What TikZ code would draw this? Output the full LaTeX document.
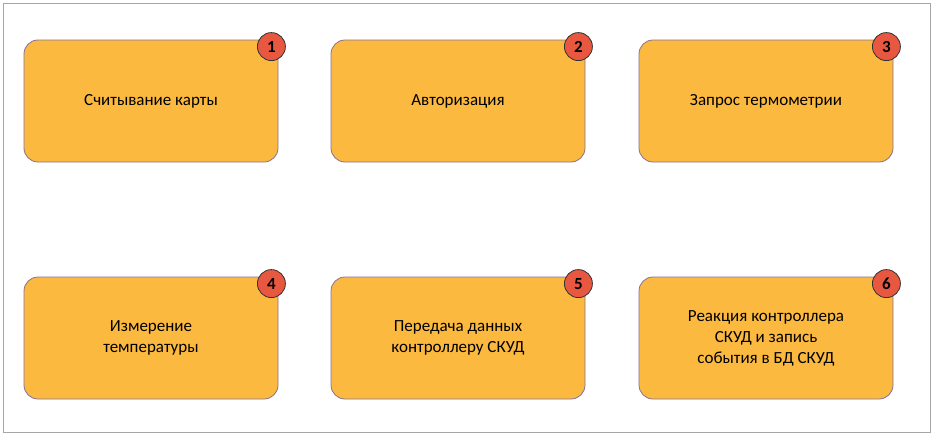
\documentclass[tikz,border=0pt]{standalone}
\usepackage{fontspec}
\setmainfont{Carlito}
\definecolor{boxfill}{HTML}{FBB940}
\definecolor{boxline}{HTML}{8A7090}
\definecolor{badgefill}{HTML}{E8573F}
\tikzset{
  stagebox/.style={draw=boxline, fill=boxfill, line width=0.8pt, rounded corners=14pt,
    minimum width=254pt, minimum height=122pt, align=center, font=\fontsize{17}{21}\selectfont},
  badge/.style={circle, draw=black!80, fill=badgefill, line width=0.8pt, minimum size=28pt,
    inner sep=0pt, font=\bfseries\fontsize{17}{17}\selectfont}
}
\begin{document}
\begin{tikzpicture}[x=1pt, y=-1pt]
    \useasboundingbox (0,0) rectangle (936,439);
    \draw[gray!70, line width=0.8pt] (3,3) rectangle (930,432);
    % top row
    \node[stagebox] (card) at (151,101) {Считывание карты};
    \node[stagebox] (auth) at (458,101) {Авторизация};
    \node[stagebox] (query) at (766,101) {Запрос термометрии};
    % bottom row
    \node[stagebox] (measure) at (151,338) {Измерение\\температуры};
    \node[stagebox] (transfer) at (458,338) {Передача данных\\контроллеру СКУД};
    \node[stagebox] (react) at (766,338) {Реакция контроллера\\СКУД и запись\\события в БД СКУД};
    % badges
    \foreach \b/\n in {card/1, auth/2, query/3, measure/4, transfer/5, react/6}
      \node[badge] (b\n) at ([xshift=-7pt, yshift=-7pt]\b.north east) {\n};
\end{tikzpicture}
\end{document}
